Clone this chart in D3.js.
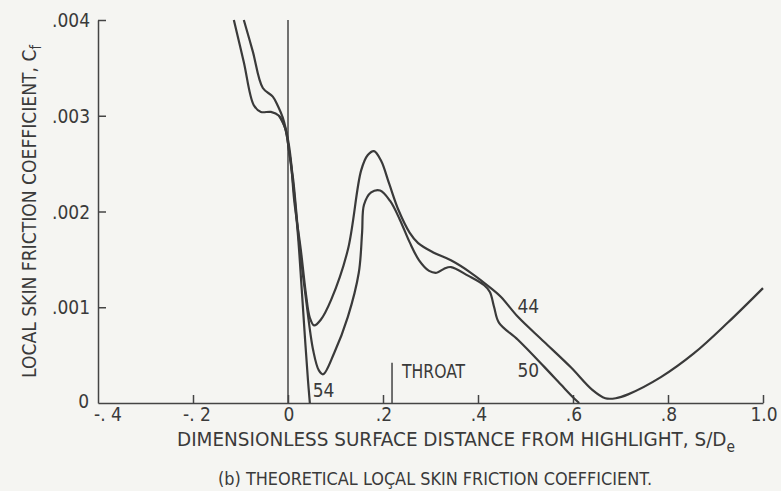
<!DOCTYPE html>
<html lang="en">
<head>
  <meta charset="UTF-8" />
  <title>Theoretical local skin friction coefficient</title>
  <style>
    /* scanned-report look: off-white paper, dark grey ink */
    body {
      margin: 0;
      background: #f5f5f2;
    }
    svg {
      display: block;
      font-family: 'DejaVu Sans Condensed', 'Liberation Sans Narrow', sans-serif;
    }
    .axis path, .axis line {
      stroke: #444;
      stroke-width: 1.5;
    }
    .lbl {
      fill: #3a3a3a;
      font-size: 19px;
    }
    .curve {
      fill: none;
      stroke: #3a3a3a;
      stroke-width: 2.2;
    }
  </style>
</head>
<body>
  <svg id="chart" width="781" height="491"></svg>

  <script src="https://d3js.org/d3.v7.min.js"></script>
  <script>
    // DATA: S/De and Cf (in units of 0.001)
    const curve44S  = [-0.093, -0.074, -0.053, -0.032, -0.021, -0.011, 0.000, 0.006, 0.013, 0.027, 0.038, 0.046, 0.055, 0.069, 0.091, 0.126, 0.154, 0.168, 0.181, 0.196, 0.213, 0.233, 0.256, 0.274, 0.307, 0.343, 0.385, 0.427, 0.448, 0.484, 0.539, 0.596, 0.640, 0.668, 0.690, 0.716, 0.785, 0.855, 0.926, 1.000];
    const curve44Cf = [4.00, 3.67, 3.29, 3.20, 3.10, 2.98, 2.75, 2.54, 2.12, 1.60, 1.13, 0.89, 0.81, 0.87, 1.08, 1.60, 2.43, 2.59, 2.63, 2.53, 2.29, 2.01, 1.78, 1.67, 1.57, 1.49, 1.36, 1.20, 1.11, 0.90, 0.64, 0.37, 0.14, 0.05, 0.05, 0.09, 0.27, 0.52, 0.84, 1.20];

    const curve50S  = [-0.114, -0.093, -0.072, -0.057, -0.036, -0.019, -0.006, 0.002, 0.011, 0.023, 0.038, 0.053, 0.065, 0.074, 0.097, 0.126, 0.149, 0.156, 0.160, 0.175, 0.194, 0.215, 0.235, 0.256, 0.276, 0.297, 0.313, 0.328, 0.343, 0.379, 0.413, 0.425, 0.434, 0.444, 0.484, 0.539, 0.575, 0.602, 0.613];
    const curve50Cf = [4.00, 3.56, 3.11, 3.04, 3.04, 3.00, 2.87, 2.64, 2.33, 1.70, 1.08, 0.55, 0.34, 0.30, 0.52, 0.90, 1.36, 1.78, 2.07, 2.20, 2.22, 2.11, 1.92, 1.68, 1.49, 1.38, 1.36, 1.40, 1.42, 1.33, 1.23, 1.16, 1.00, 0.84, 0.66, 0.38, 0.19, 0.05, 0.00];

    const curve54S  = [-0.019, -0.006, 0.002, 0.011, 0.021, 0.029, 0.036, 0.042, 0.046];
    const curve54Cf = [3.00, 2.87, 2.64, 2.28, 1.75, 1.18, 0.66, 0.24, 0.00];

    const curveNames = ["44", "50", "54"];

    // tick values and the labels as printed
    const xTicks = [-0.4, -0.2, 0, 0.2, 0.4, 0.6, 0.8, 1.0];
    const xTickLabels = ["-. 4", "-. 2", "0", ".2", ".4", ".6", ".8", "1.0"];
    const yTicks = [0, 0.001, 0.002, 0.003, 0.004];
    const yTickLabels = ["0", ".001", ".002", ".003", ".004"];

    // throat station and curve labels (data units)
    const throatS = 0.219, throatTop = 0.00042;
    const labelNames = ["54", "44", "50"];
    const labelS  = [0.052, 0.483, 0.483];
    const labelCf = [0.00006, 0.00094, 0.00027];

    const svg = d3.select("#chart");
    const x = d3.scaleLinear().domain([-0.4, 1.0]).range([98, 763]);
    const y = d3.scaleLinear().domain([0, 0.004]).range([403, 20]);

    // axes, ticks pointing inward
    svg.append("g")
       .attr("class", "x axis")
       .attr("transform", `translate(0,${y(0)})`)
       .call(d3.axisBottom(x).tickValues(xTicks.slice(1)).tickSize(-8).tickSizeOuter(0).tickFormat(() => ""));

    svg.append("g")
       .attr("class", "y axis")
       .attr("transform", `translate(${x(-0.4)},0)`)
       .call(d3.axisLeft(y).tickValues(yTicks.slice(1)).tickSize(-8).tickSizeOuter(0).tickFormat(() => ""));

    svg.selectAll(".xlab")
       .data(xTicks)
       .join("text")
       .attr("class", "lbl")
       .attr("x", (d, i) => x(d) + (i === 0 ? 10 : i === 1 ? 4 : 1))
       .attr("y", 421)
       .attr("text-anchor", "middle")
       .text((d, i) => xTickLabels[i]);

    svg.selectAll(".ylab")
       .data(yTicks)
       .join("text")
       .attr("class", "lbl")
       .attr("x", (d, i) => i === 0 ? 89 : 90)
       .attr("y", (d, i) => y(d) + (i === 0 ? 5 : 7))
       .attr("text-anchor", "end")
       .text((d, i) => yTickLabels[i]);

    // vertical reference line at the highlight (S/De = 0)
    svg.append("line")
       .attr("x1", x(0)).attr("x2", x(0))
       .attr("y1", y(0.004)).attr("y2", y(0))
       .attr("stroke", "#444").attr("stroke-width", 1.5);

    // throat marker
    svg.append("line")
       .attr("x1", x(throatS)).attr("x2", x(throatS))
       .attr("y1", y(throatTop)).attr("y2", y(0))
       .attr("stroke", "#444").attr("stroke-width", 1.5);
    svg.append("text")
       .attr("class", "lbl")
       .attr("x", x(throatS) + 10)
       .attr("y", y(throatTop) + 15)
       .attr("textLength", 63)
       .attr("lengthAdjust", "spacingAndGlyphs")
       .text("THROAT");

    // curves
    const series = [
      d3.zip(curve44S, curve44Cf),
      d3.zip(curve50S, curve50Cf),
      d3.zip(curve54S, curve54Cf)
    ];
    const line = d3.line()
       .x(d => x(d[0]))
       .y(d => y(d[1] / 1000))
       .curve(d3.curveCatmullRom.alpha(0.5));

    svg.selectAll(".curve")
       .data(series)
       .join("path")
       .attr("class", "curve")
       .attr("data-name", (d, i) => curveNames[i])
       .attr("d", line);

    svg.selectAll(".clab")
       .data(labelNames)
       .join("text")
       .attr("class", "lbl")
       .attr("x", (d, i) => x(labelS[i]))
       .attr("y", (d, i) => y(labelCf[i]))
       .text(d => d);

    // axis titles and caption
    const yt = svg.append("text")
       .attr("class", "lbl")
       .style("font-size", "20px")
       .attr("transform", "translate(36,378) rotate(-90)")
       .attr("textLength", 333)
       .attr("lengthAdjust", "spacingAndGlyphs");
    yt.append("tspan").text("LOCAL SKIN FRICTION COEFFICIENT, C");
    yt.append("tspan").attr("dy", 5).style("font-size", "15px").text("f");

    const xt = svg.append("text")
       .attr("class", "lbl")
       .style("font-size", "20px")
       .attr("x", 177)
       .attr("y", 446)
       .attr("textLength", 558)
       .attr("lengthAdjust", "spacingAndGlyphs");
    xt.append("tspan").text("DIMENSIONLESS SURFACE DISTANCE FROM HIGHLIGHT, S/D");
    xt.append("tspan").attr("dy", 6).style("font-size", "15px").text("e");

    svg.append("text")
       .attr("class", "lbl")
       .style("font-size", "18px")
       .attr("x", 218)
       .attr("y", 485)
       .attr("textLength", 434)
       .attr("lengthAdjust", "spacingAndGlyphs")
       .text("(b) THEORETICAL LOÇAL SKIN FRICTION COEFFICIENT.");
  </script>
</body>
</html>
